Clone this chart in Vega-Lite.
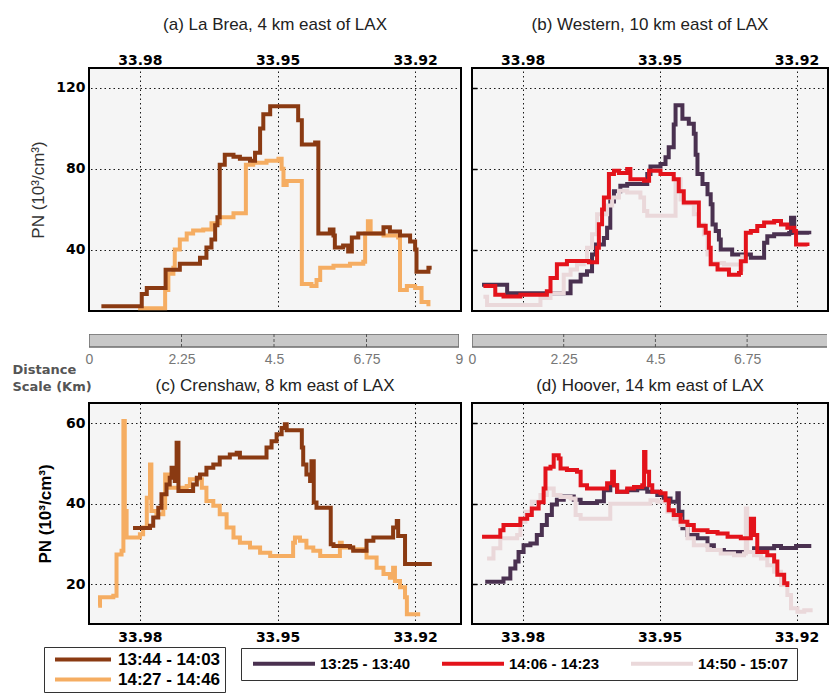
{
"$schema": "https://vega.github.io/schema/vega-lite/v6.json",
"background": "white",
"padding": {"left": 12, "top": 15, "right": 2, "bottom": 0},
"columns": 2,
"bounds": "flush",
"align": "each",
"spacing": {"row": 23, "column": 11},
"resolve": {"scale": {"color": "independent", "x": "independent", "y": "independent"}, "legend": {"color": "independent"}, "axis": {"x": "independent", "y": "independent"}},
"config": {
  "view": {"fill": "#f5f5f5", "stroke": "black", "strokeWidth": 2},
  "title": {"font": "Liberation Sans", "fontSize": 17, "fontWeight": "normal", "color": "#222"},
  "axis": {"labelFont": "DejaVu Sans", "labelFontWeight": "bold", "labelFontSize": 14, "labelColor": "black", "domain": false, "ticks": false, "grid": true, "gridColor": "#000", "gridDash": [1.5, 3], "gridWidth": 1, "gridOpacity": 0.9, "labelPadding": 4},
  "line": {"strokeWidth": 4, "interpolate": "step-after", "clip": true, "strokeJoin": "miter"}
},
"datasets": {
 "a": [
  {"lat":33.9804,"pn":11,"t":"14:27 - 14:46"},{"lat":33.9745,"pn":20,"t":"14:27 - 14:46"},{"lat":33.9738,"pn":28,"t":"14:27 - 14:46"},{"lat":33.9727,"pn":31,"t":"14:27 - 14:46"},{"lat":33.9724,"pn":40,"t":"14:27 - 14:46"},{"lat":33.9713,"pn":45,"t":"14:27 - 14:46"},{"lat":33.9698,"pn":48,"t":"14:27 - 14:46"},{"lat":33.9684,"pn":49.5,"t":"14:27 - 14:46"},{"lat":33.9662,"pn":50,"t":"14:27 - 14:46"},{"lat":33.9644,"pn":53,"t":"14:27 - 14:46"},{"lat":33.9626,"pn":56,"t":"14:27 - 14:46"},{"lat":33.9596,"pn":58,"t":"14:27 - 14:46"},{"lat":33.9569,"pn":82,"t":"14:27 - 14:46"},{"lat":33.9553,"pn":83,"t":"14:27 - 14:46"},{"lat":33.9524,"pn":84,"t":"14:27 - 14:46"},{"lat":33.9498,"pn":85,"t":"14:27 - 14:46"},{"lat":33.9491,"pn":80,"t":"14:27 - 14:46"},{"lat":33.9487,"pn":72,"t":"14:27 - 14:46"},{"lat":33.9480,"pn":74,"t":"14:27 - 14:46"},{"lat":33.9447,"pn":23,"t":"14:27 - 14:46"},{"lat":33.9426,"pn":22,"t":"14:27 - 14:46"},{"lat":33.9415,"pn":25,"t":"14:27 - 14:46"},{"lat":33.9407,"pn":31,"t":"14:27 - 14:46"},{"lat":33.9378,"pn":32,"t":"14:27 - 14:46"},{"lat":33.9342,"pn":33,"t":"14:27 - 14:46"},{"lat":33.9313,"pn":34,"t":"14:27 - 14:46"},{"lat":33.9309,"pn":48,"t":"14:27 - 14:46"},{"lat":33.9303,"pn":54,"t":"14:27 - 14:46"},{"lat":33.9297,"pn":48,"t":"14:27 - 14:46"},{"lat":33.9269,"pn":47,"t":"14:27 - 14:46"},{"lat":33.9237,"pn":46,"t":"14:27 - 14:46"},{"lat":33.9233,"pn":20,"t":"14:27 - 14:46"},{"lat":33.9218,"pn":22,"t":"14:27 - 14:46"},{"lat":33.9200,"pn":21,"t":"14:27 - 14:46"},{"lat":33.9186,"pn":14,"t":"14:27 - 14:46"},{"lat":33.9171,"pn":12,"t":"14:27 - 14:46"},
  {"lat":33.9884,"pn":12,"t":"13:44 - 14:03"},{"lat":33.9796,"pn":18,"t":"13:44 - 14:03"},{"lat":33.9785,"pn":21,"t":"13:44 - 14:03"},{"lat":33.9744,"pn":30,"t":"13:44 - 14:03"},{"lat":33.9713,"pn":33,"t":"13:44 - 14:03"},{"lat":33.9669,"pn":36,"t":"13:44 - 14:03"},{"lat":33.9655,"pn":41,"t":"13:44 - 14:03"},{"lat":33.9644,"pn":45,"t":"13:44 - 14:03"},{"lat":33.9636,"pn":52,"t":"13:44 - 14:03"},{"lat":33.9631,"pn":56,"t":"13:44 - 14:03"},{"lat":33.9626,"pn":82,"t":"13:44 - 14:03"},{"lat":33.9615,"pn":87,"t":"13:44 - 14:03"},{"lat":33.9596,"pn":86,"t":"13:44 - 14:03"},{"lat":33.9582,"pn":85,"t":"13:44 - 14:03"},{"lat":33.9560,"pn":84,"t":"13:44 - 14:03"},{"lat":33.9549,"pn":88,"t":"13:44 - 14:03"},{"lat":33.9538,"pn":100,"t":"13:44 - 14:03"},{"lat":33.9531,"pn":107,"t":"13:44 - 14:03"},{"lat":33.9516,"pn":111,"t":"13:44 - 14:03"},{"lat":33.9455,"pn":104,"t":"13:44 - 14:03"},{"lat":33.9447,"pn":92,"t":"13:44 - 14:03"},{"lat":33.9418,"pn":93,"t":"13:44 - 14:03"},{"lat":33.9411,"pn":48,"t":"13:44 - 14:03"},{"lat":33.9386,"pn":50,"t":"13:44 - 14:03"},{"lat":33.9378,"pn":47,"t":"13:44 - 14:03"},{"lat":33.9375,"pn":41,"t":"13:44 - 14:03"},{"lat":33.9357,"pn":42,"t":"13:44 - 14:03"},{"lat":33.9346,"pn":39,"t":"13:44 - 14:03"},{"lat":33.9338,"pn":46,"t":"13:44 - 14:03"},{"lat":33.9324,"pn":48,"t":"13:44 - 14:03"},{"lat":33.9269,"pn":51,"t":"13:44 - 14:03"},{"lat":33.9255,"pn":49,"t":"13:44 - 14:03"},{"lat":33.9233,"pn":47,"t":"13:44 - 14:03"},{"lat":33.9211,"pn":44,"t":"13:44 - 14:03"},{"lat":33.9200,"pn":40,"t":"13:44 - 14:03"},{"lat":33.9197,"pn":29,"t":"13:44 - 14:03"},{"lat":33.9171,"pn":31,"t":"13:44 - 14:03"},{"lat":33.9164,"pn":31,"t":"13:44 - 14:03"}
 ],
 "b": [
  {"lat":33.9889,"pn":23,"t":"13:25 - 13:40"},{"lat":33.9834,"pn":18.8,"t":"13:25 - 13:40"},{"lat":33.9695,"pn":24.6,"t":"13:25 - 13:40"},{"lat":33.9673,"pn":27.9,"t":"13:25 - 13:40"},{"lat":33.9659,"pn":29.6,"t":"13:25 - 13:40"},{"lat":33.9648,"pn":37.8,"t":"13:25 - 13:40"},{"lat":33.9640,"pn":42.8,"t":"13:25 - 13:40"},{"lat":33.9622,"pn":46,"t":"13:25 - 13:40"},{"lat":33.9615,"pn":51,"t":"13:25 - 13:40"},{"lat":33.9608,"pn":64,"t":"13:25 - 13:40"},{"lat":33.9600,"pn":69,"t":"13:25 - 13:40"},{"lat":33.9586,"pn":71.7,"t":"13:25 - 13:40"},{"lat":33.9571,"pn":72.6,"t":"13:25 - 13:40"},{"lat":33.9527,"pn":77.5,"t":"13:25 - 13:40"},{"lat":33.9520,"pn":81.2,"t":"13:25 - 13:40"},{"lat":33.9498,"pn":82.5,"t":"13:25 - 13:40"},{"lat":33.9487,"pn":85.8,"t":"13:25 - 13:40"},{"lat":33.9480,"pn":90.7,"t":"13:25 - 13:40"},{"lat":33.9469,"pn":102,"t":"13:25 - 13:40"},{"lat":33.9465,"pn":111.4,"t":"13:25 - 13:40"},{"lat":33.9450,"pn":104.8,"t":"13:25 - 13:40"},{"lat":33.9436,"pn":102.3,"t":"13:25 - 13:40"},{"lat":33.9425,"pn":97.4,"t":"13:25 - 13:40"},{"lat":33.9421,"pn":87,"t":"13:25 - 13:40"},{"lat":33.9417,"pn":77.5,"t":"13:25 - 13:40"},{"lat":33.9406,"pn":72.6,"t":"13:25 - 13:40"},{"lat":33.9395,"pn":67.6,"t":"13:25 - 13:40"},{"lat":33.9388,"pn":62.6,"t":"13:25 - 13:40"},{"lat":33.9384,"pn":52.7,"t":"13:25 - 13:40"},{"lat":33.9377,"pn":49.4,"t":"13:25 - 13:40"},{"lat":33.9370,"pn":45.3,"t":"13:25 - 13:40"},{"lat":33.9366,"pn":40.3,"t":"13:25 - 13:40"},{"lat":33.9341,"pn":37.8,"t":"13:25 - 13:40"},{"lat":33.9300,"pn":36.2,"t":"13:25 - 13:40"},{"lat":33.9271,"pn":43.6,"t":"13:25 - 13:40"},{"lat":33.9264,"pn":46.9,"t":"13:25 - 13:40"},{"lat":33.9249,"pn":47.8,"t":"13:25 - 13:40"},{"lat":33.9216,"pn":48.5,"t":"13:25 - 13:40"},{"lat":33.9212,"pn":56,"t":"13:25 - 13:40"},{"lat":33.9205,"pn":48.6,"t":"13:25 - 13:40"},{"lat":33.9172,"pn":47.8,"t":"13:25 - 13:40"},
  {"lat":33.9886,"pn":17,"t":"14:50 - 15:07"},{"lat":33.9878,"pn":13,"t":"14:50 - 15:07"},{"lat":33.9761,"pn":16.4,"t":"14:50 - 15:07"},{"lat":33.9739,"pn":18.8,"t":"14:50 - 15:07"},{"lat":33.9710,"pn":27.9,"t":"14:50 - 15:07"},{"lat":33.9695,"pn":30.4,"t":"14:50 - 15:07"},{"lat":33.9681,"pn":33,"t":"14:50 - 15:07"},{"lat":33.9666,"pn":34.6,"t":"14:50 - 15:07"},{"lat":33.9659,"pn":41.2,"t":"14:50 - 15:07"},{"lat":33.9648,"pn":47.8,"t":"14:50 - 15:07"},{"lat":33.9637,"pn":57.7,"t":"14:50 - 15:07"},{"lat":33.9615,"pn":62,"t":"14:50 - 15:07"},{"lat":33.9604,"pn":66,"t":"14:50 - 15:07"},{"lat":33.9589,"pn":69.3,"t":"14:50 - 15:07"},{"lat":33.9571,"pn":68.4,"t":"14:50 - 15:07"},{"lat":33.9542,"pn":66,"t":"14:50 - 15:07"},{"lat":33.9534,"pn":59.3,"t":"14:50 - 15:07"},{"lat":33.9527,"pn":56.9,"t":"14:50 - 15:07"},{"lat":33.9465,"pn":75,"t":"14:50 - 15:07"},{"lat":33.9454,"pn":65,"t":"14:50 - 15:07"},{"lat":33.9447,"pn":63,"t":"14:50 - 15:07"},{"lat":33.9425,"pn":57.7,"t":"14:50 - 15:07"},{"lat":33.9414,"pn":52.7,"t":"14:50 - 15:07"},{"lat":33.9403,"pn":47.8,"t":"14:50 - 15:07"},{"lat":33.9395,"pn":37.8,"t":"14:50 - 15:07"},{"lat":33.9388,"pn":33.7,"t":"14:50 - 15:07"},{"lat":33.9359,"pn":32.9,"t":"14:50 - 15:07"},{"lat":33.9322,"pn":30.4,"t":"14:50 - 15:07"},{"lat":33.9319,"pn":37.8,"t":"14:50 - 15:07"},
  {"lat":33.9886,"pn":22.3,"t":"14:06 - 14:23"},{"lat":33.9860,"pn":18,"t":"14:06 - 14:23"},{"lat":33.9842,"pn":17.2,"t":"14:06 - 14:23"},{"lat":33.9805,"pn":18,"t":"14:06 - 14:23"},{"lat":33.9747,"pn":19.7,"t":"14:06 - 14:23"},{"lat":33.9739,"pn":26.3,"t":"14:06 - 14:23"},{"lat":33.9725,"pn":33,"t":"14:06 - 14:23"},{"lat":33.9703,"pn":34.6,"t":"14:06 - 14:23"},{"lat":33.9655,"pn":34,"t":"14:06 - 14:23"},{"lat":33.9637,"pn":41.2,"t":"14:06 - 14:23"},{"lat":33.9633,"pn":52.8,"t":"14:06 - 14:23"},{"lat":33.9626,"pn":60,"t":"14:06 - 14:23"},{"lat":33.9622,"pn":66,"t":"14:06 - 14:23"},{"lat":33.9611,"pn":77.5,"t":"14:06 - 14:23"},{"lat":33.9600,"pn":79.2,"t":"14:06 - 14:23"},{"lat":33.9589,"pn":78,"t":"14:06 - 14:23"},{"lat":33.9571,"pn":80,"t":"14:06 - 14:23"},{"lat":33.9564,"pn":75,"t":"14:06 - 14:23"},{"lat":33.9534,"pn":74.2,"t":"14:06 - 14:23"},{"lat":33.9523,"pn":79.2,"t":"14:06 - 14:23"},{"lat":33.9498,"pn":77.5,"t":"14:06 - 14:23"},{"lat":33.9469,"pn":75,"t":"14:06 - 14:23"},{"lat":33.9458,"pn":69,"t":"14:06 - 14:23"},{"lat":33.9447,"pn":63.5,"t":"14:06 - 14:23"},{"lat":33.9414,"pn":52,"t":"14:06 - 14:23"},{"lat":33.9399,"pn":48.6,"t":"14:06 - 14:23"},{"lat":33.9392,"pn":41.2,"t":"14:06 - 14:23"},{"lat":33.9388,"pn":33,"t":"14:06 - 14:23"},{"lat":33.9373,"pn":30.4,"t":"14:06 - 14:23"},{"lat":33.9348,"pn":27.9,"t":"14:06 - 14:23"},{"lat":33.9326,"pn":28.7,"t":"14:06 - 14:23"},{"lat":33.9322,"pn":34.5,"t":"14:06 - 14:23"},{"lat":33.9311,"pn":48.6,"t":"14:06 - 14:23"},{"lat":33.9300,"pn":49.4,"t":"14:06 - 14:23"},{"lat":33.9286,"pn":51.9,"t":"14:06 - 14:23"},{"lat":33.9271,"pn":53.6,"t":"14:06 - 14:23"},{"lat":33.9249,"pn":54.4,"t":"14:06 - 14:23"},{"lat":33.9234,"pn":52.7,"t":"14:06 - 14:23"},{"lat":33.9220,"pn":51,"t":"14:06 - 14:23"},{"lat":33.9205,"pn":49.4,"t":"14:06 - 14:23"},{"lat":33.9201,"pn":42.8,"t":"14:06 - 14:23"},{"lat":33.9176,"pn":42,"t":"14:06 - 14:23"}
 ],
 "c": [
  {"lat":33.9891,"pn":14.6,"t":"14:27 - 14:46"},{"lat":33.9887,"pn":16.7,"t":"14:27 - 14:46"},{"lat":33.9858,"pn":17.1,"t":"14:27 - 14:46"},{"lat":33.9851,"pn":27.4,"t":"14:27 - 14:46"},{"lat":33.9840,"pn":28.3,"t":"14:27 - 14:46"},{"lat":33.9836,"pn":60.6,"t":"14:27 - 14:46"},{"lat":33.9833,"pn":38.2,"t":"14:27 - 14:46"},{"lat":33.9829,"pn":31.6,"t":"14:27 - 14:46"},{"lat":33.9800,"pn":32.4,"t":"14:27 - 14:46"},{"lat":33.9793,"pn":34.1,"t":"14:27 - 14:46"},{"lat":33.9785,"pn":41.5,"t":"14:27 - 14:46"},{"lat":33.9778,"pn":49.8,"t":"14:27 - 14:46"},{"lat":33.9775,"pn":38.2,"t":"14:27 - 14:46"},{"lat":33.9764,"pn":37.4,"t":"14:27 - 14:46"},{"lat":33.9749,"pn":39,"t":"14:27 - 14:46"},{"lat":33.9745,"pn":47.3,"t":"14:27 - 14:46"},{"lat":33.9738,"pn":44,"t":"14:27 - 14:46"},{"lat":33.9705,"pn":43.2,"t":"14:27 - 14:46"},{"lat":33.9698,"pn":44.4,"t":"14:27 - 14:46"},{"lat":33.9691,"pn":46.1,"t":"14:27 - 14:46"},{"lat":33.9665,"pn":44,"t":"14:27 - 14:46"},{"lat":33.9655,"pn":40.7,"t":"14:27 - 14:46"},{"lat":33.9640,"pn":39.5,"t":"14:27 - 14:46"},{"lat":33.9626,"pn":37.4,"t":"14:27 - 14:46"},{"lat":33.9611,"pn":34.1,"t":"14:27 - 14:46"},{"lat":33.9596,"pn":31.6,"t":"14:27 - 14:46"},{"lat":33.9582,"pn":30.3,"t":"14:27 - 14:46"},{"lat":33.9560,"pn":29.1,"t":"14:27 - 14:46"},{"lat":33.9538,"pn":27.8,"t":"14:27 - 14:46"},{"lat":33.9516,"pn":27,"t":"14:27 - 14:46"},{"lat":33.9466,"pn":30.3,"t":"14:27 - 14:46"},{"lat":33.9462,"pn":31.6,"t":"14:27 - 14:46"},{"lat":33.9451,"pn":30.8,"t":"14:27 - 14:46"},{"lat":33.9437,"pn":29.1,"t":"14:27 - 14:46"},{"lat":33.9422,"pn":28.3,"t":"14:27 - 14:46"},{"lat":33.9407,"pn":27,"t":"14:27 - 14:46"},{"lat":33.9364,"pn":30.3,"t":"14:27 - 14:46"},{"lat":33.9360,"pn":29.1,"t":"14:27 - 14:46"},{"lat":33.9335,"pn":28.7,"t":"14:27 - 14:46"},{"lat":33.9313,"pn":28.3,"t":"14:27 - 14:46"},{"lat":33.9306,"pn":26.6,"t":"14:27 - 14:46"},{"lat":33.9284,"pn":24.1,"t":"14:27 - 14:46"},{"lat":33.9269,"pn":22.5,"t":"14:27 - 14:46"},{"lat":33.9255,"pn":21.6,"t":"14:27 - 14:46"},{"lat":33.9248,"pn":24.1,"t":"14:27 - 14:46"},{"lat":33.9244,"pn":20.8,"t":"14:27 - 14:46"},{"lat":33.9233,"pn":19.2,"t":"14:27 - 14:46"},{"lat":33.9222,"pn":16.7,"t":"14:27 - 14:46"},{"lat":33.9218,"pn":12.5,"t":"14:27 - 14:46"},{"lat":33.9189,"pn":12.5,"t":"14:27 - 14:46"},
  {"lat":33.9815,"pn":34,"t":"13:44 - 14:03"},{"lat":33.9778,"pn":34.5,"t":"13:44 - 14:03"},{"lat":33.9771,"pn":36.6,"t":"13:44 - 14:03"},{"lat":33.9760,"pn":39,"t":"13:44 - 14:03"},{"lat":33.9753,"pn":42.4,"t":"13:44 - 14:03"},{"lat":33.9742,"pn":44.8,"t":"13:44 - 14:03"},{"lat":33.9735,"pn":46.5,"t":"13:44 - 14:03"},{"lat":33.9731,"pn":49,"t":"13:44 - 14:03"},{"lat":33.9724,"pn":45.7,"t":"13:44 - 14:03"},{"lat":33.9720,"pn":55.2,"t":"13:44 - 14:03"},{"lat":33.9716,"pn":43.2,"t":"13:44 - 14:03"},{"lat":33.9684,"pn":44.8,"t":"13:44 - 14:03"},{"lat":33.9676,"pn":46.5,"t":"13:44 - 14:03"},{"lat":33.9669,"pn":47.3,"t":"13:44 - 14:03"},{"lat":33.9655,"pn":49,"t":"13:44 - 14:03"},{"lat":33.9640,"pn":49.8,"t":"13:44 - 14:03"},{"lat":33.9626,"pn":51.5,"t":"13:44 - 14:03"},{"lat":33.9604,"pn":52.3,"t":"13:44 - 14:03"},{"lat":33.9589,"pn":52.7,"t":"13:44 - 14:03"},{"lat":33.9582,"pn":51.5,"t":"13:44 - 14:03"},{"lat":33.9524,"pn":54,"t":"13:44 - 14:03"},{"lat":33.9513,"pn":55.6,"t":"13:44 - 14:03"},{"lat":33.9502,"pn":57.3,"t":"13:44 - 14:03"},{"lat":33.9491,"pn":58.9,"t":"13:44 - 14:03"},{"lat":33.9484,"pn":59.8,"t":"13:44 - 14:03"},{"lat":33.9480,"pn":58.3,"t":"13:44 - 14:03"},{"lat":33.9447,"pn":54,"t":"13:44 - 14:03"},{"lat":33.9444,"pn":49.8,"t":"13:44 - 14:03"},{"lat":33.9437,"pn":47.3,"t":"13:44 - 14:03"},{"lat":33.9429,"pn":45.7,"t":"13:44 - 14:03"},{"lat":33.9426,"pn":50.6,"t":"13:44 - 14:03"},{"lat":33.9421,"pn":40.3,"t":"13:44 - 14:03"},{"lat":33.9415,"pn":39,"t":"13:44 - 14:03"},{"lat":33.9384,"pn":29.9,"t":"13:44 - 14:03"},{"lat":33.9378,"pn":29.5,"t":"13:44 - 14:03"},{"lat":33.9342,"pn":29.1,"t":"13:44 - 14:03"},{"lat":33.9335,"pn":28.3,"t":"13:44 - 14:03"},{"lat":33.9306,"pn":30.8,"t":"13:44 - 14:03"},{"lat":33.9291,"pn":31.6,"t":"13:44 - 14:03"},{"lat":33.9248,"pn":34.1,"t":"13:44 - 14:03"},{"lat":33.9240,"pn":35.7,"t":"13:44 - 14:03"},{"lat":33.9237,"pn":32,"t":"13:44 - 14:03"},{"lat":33.9222,"pn":25,"t":"13:44 - 14:03"},{"lat":33.9168,"pn":24.5,"t":"13:44 - 14:03"}
 ],
 "d": [
  {"lat":33.9882,"pn":20.6,"t":"13:25 - 13:40"},{"lat":33.9842,"pn":21.4,"t":"13:25 - 13:40"},{"lat":33.9827,"pn":23.9,"t":"13:25 - 13:40"},{"lat":33.9816,"pn":25.6,"t":"13:25 - 13:40"},{"lat":33.9809,"pn":28,"t":"13:25 - 13:40"},{"lat":33.9798,"pn":29.7,"t":"13:25 - 13:40"},{"lat":33.9783,"pn":30.1,"t":"13:25 - 13:40"},{"lat":33.9769,"pn":32.2,"t":"13:25 - 13:40"},{"lat":33.9758,"pn":34.7,"t":"13:25 - 13:40"},{"lat":33.9747,"pn":37.2,"t":"13:25 - 13:40"},{"lat":33.9736,"pn":39.8,"t":"13:25 - 13:40"},{"lat":33.9725,"pn":41,"t":"13:25 - 13:40"},{"lat":33.9710,"pn":41.8,"t":"13:25 - 13:40"},{"lat":33.9688,"pn":41,"t":"13:25 - 13:40"},{"lat":33.9673,"pn":40.2,"t":"13:25 - 13:40"},{"lat":33.9637,"pn":40.6,"t":"13:25 - 13:40"},{"lat":33.9622,"pn":43.4,"t":"13:25 - 13:40"},{"lat":33.9608,"pn":44.6,"t":"13:25 - 13:40"},{"lat":33.9593,"pn":43,"t":"13:25 - 13:40"},{"lat":33.9571,"pn":43.4,"t":"13:25 - 13:40"},{"lat":33.9549,"pn":43.8,"t":"13:25 - 13:40"},{"lat":33.9527,"pn":43,"t":"13:25 - 13:40"},{"lat":33.9505,"pn":42.2,"t":"13:25 - 13:40"},{"lat":33.9491,"pn":41.3,"t":"13:25 - 13:40"},{"lat":33.9476,"pn":40.5,"t":"13:25 - 13:40"},{"lat":33.9461,"pn":42.6,"t":"13:25 - 13:40"},{"lat":33.9458,"pn":38,"t":"13:25 - 13:40"},{"lat":33.9450,"pn":33.9,"t":"13:25 - 13:40"},{"lat":33.9439,"pn":32.2,"t":"13:25 - 13:40"},{"lat":33.9417,"pn":31.4,"t":"13:25 - 13:40"},{"lat":33.9395,"pn":29.7,"t":"13:25 - 13:40"},{"lat":33.9381,"pn":28.5,"t":"13:25 - 13:40"},{"lat":33.9359,"pn":28,"t":"13:25 - 13:40"},{"lat":33.9293,"pn":28.9,"t":"13:25 - 13:40"},{"lat":33.9249,"pn":29.5,"t":"13:25 - 13:40"},{"lat":33.9234,"pn":29,"t":"13:25 - 13:40"},{"lat":33.9201,"pn":29.5,"t":"13:25 - 13:40"},{"lat":33.9172,"pn":29,"t":"13:25 - 13:40"},
  {"lat":33.9878,"pn":26.4,"t":"14:50 - 15:07"},{"lat":33.9864,"pn":28.9,"t":"14:50 - 15:07"},{"lat":33.9849,"pn":31.4,"t":"14:50 - 15:07"},{"lat":33.9812,"pn":32.2,"t":"14:50 - 15:07"},{"lat":33.9805,"pn":35.5,"t":"14:50 - 15:07"},{"lat":33.9794,"pn":38,"t":"14:50 - 15:07"},{"lat":33.9780,"pn":40.5,"t":"14:50 - 15:07"},{"lat":33.9761,"pn":42.2,"t":"14:50 - 15:07"},{"lat":33.9747,"pn":43.8,"t":"14:50 - 15:07"},{"lat":33.9732,"pn":42.2,"t":"14:50 - 15:07"},{"lat":33.9717,"pn":41.7,"t":"14:50 - 15:07"},{"lat":33.9695,"pn":41.3,"t":"14:50 - 15:07"},{"lat":33.9684,"pn":37.2,"t":"14:50 - 15:07"},{"lat":33.9673,"pn":36.3,"t":"14:50 - 15:07"},{"lat":33.9608,"pn":40,"t":"14:50 - 15:07"},{"lat":33.9520,"pn":40.9,"t":"14:50 - 15:07"},{"lat":33.9505,"pn":40.5,"t":"14:50 - 15:07"},{"lat":33.9483,"pn":38,"t":"14:50 - 15:07"},{"lat":33.9469,"pn":36.3,"t":"14:50 - 15:07"},{"lat":33.9454,"pn":34.7,"t":"14:50 - 15:07"},{"lat":33.9439,"pn":31.4,"t":"14:50 - 15:07"},{"lat":33.9425,"pn":29.7,"t":"14:50 - 15:07"},{"lat":33.9395,"pn":28.5,"t":"14:50 - 15:07"},{"lat":33.9366,"pn":27.6,"t":"14:50 - 15:07"},{"lat":33.9337,"pn":27.2,"t":"14:50 - 15:07"},{"lat":33.9315,"pn":27.6,"t":"14:50 - 15:07"},{"lat":33.9311,"pn":38.8,"t":"14:50 - 15:07"},{"lat":33.9308,"pn":28,"t":"14:50 - 15:07"},{"lat":33.9293,"pn":27.2,"t":"14:50 - 15:07"},{"lat":33.9278,"pn":26.4,"t":"14:50 - 15:07"},{"lat":33.9264,"pn":24.7,"t":"14:50 - 15:07"},{"lat":33.9249,"pn":23.1,"t":"14:50 - 15:07"},{"lat":33.9234,"pn":19.8,"t":"14:50 - 15:07"},{"lat":33.9220,"pn":17.3,"t":"14:50 - 15:07"},{"lat":33.9212,"pn":14,"t":"14:50 - 15:07"},{"lat":33.9198,"pn":13.1,"t":"14:50 - 15:07"},{"lat":33.9183,"pn":13.5,"t":"14:50 - 15:07"},{"lat":33.9169,"pn":14,"t":"14:50 - 15:07"},
  {"lat":33.9889,"pn":31.8,"t":"14:06 - 14:23"},{"lat":33.9849,"pn":33.4,"t":"14:06 - 14:23"},{"lat":33.9842,"pn":34.7,"t":"14:06 - 14:23"},{"lat":33.9805,"pn":36.3,"t":"14:06 - 14:23"},{"lat":33.9790,"pn":37.2,"t":"14:06 - 14:23"},{"lat":33.9780,"pn":38.8,"t":"14:06 - 14:23"},{"lat":33.9765,"pn":40.4,"t":"14:06 - 14:23"},{"lat":33.9754,"pn":43.8,"t":"14:06 - 14:23"},{"lat":33.9750,"pn":48.8,"t":"14:06 - 14:23"},{"lat":33.9739,"pn":49.2,"t":"14:06 - 14:23"},{"lat":33.9732,"pn":52.1,"t":"14:06 - 14:23"},{"lat":33.9721,"pn":51.3,"t":"14:06 - 14:23"},{"lat":33.9717,"pn":48.8,"t":"14:06 - 14:23"},{"lat":33.9703,"pn":48.4,"t":"14:06 - 14:23"},{"lat":33.9681,"pn":48,"t":"14:06 - 14:23"},{"lat":33.9673,"pn":44.6,"t":"14:06 - 14:23"},{"lat":33.9659,"pn":43.8,"t":"14:06 - 14:23"},{"lat":33.9615,"pn":45.1,"t":"14:06 - 14:23"},{"lat":33.9604,"pn":48,"t":"14:06 - 14:23"},{"lat":33.9600,"pn":44.6,"t":"14:06 - 14:23"},{"lat":33.9593,"pn":43,"t":"14:06 - 14:23"},{"lat":33.9571,"pn":43.8,"t":"14:06 - 14:23"},{"lat":33.9556,"pn":44.2,"t":"14:06 - 14:23"},{"lat":33.9538,"pn":44.6,"t":"14:06 - 14:23"},{"lat":33.9534,"pn":52.9,"t":"14:06 - 14:23"},{"lat":33.9531,"pn":48,"t":"14:06 - 14:23"},{"lat":33.9523,"pn":44.6,"t":"14:06 - 14:23"},{"lat":33.9516,"pn":43,"t":"14:06 - 14:23"},{"lat":33.9498,"pn":42.6,"t":"14:06 - 14:23"},{"lat":33.9487,"pn":40.9,"t":"14:06 - 14:23"},{"lat":33.9480,"pn":38.4,"t":"14:06 - 14:23"},{"lat":33.9469,"pn":37.2,"t":"14:06 - 14:23"},{"lat":33.9454,"pn":35.5,"t":"14:06 - 14:23"},{"lat":33.9439,"pn":34.7,"t":"14:06 - 14:23"},{"lat":33.9425,"pn":33.4,"t":"14:06 - 14:23"},{"lat":33.9395,"pn":33,"t":"14:06 - 14:23"},{"lat":33.9373,"pn":32.6,"t":"14:06 - 14:23"},{"lat":33.9351,"pn":31.8,"t":"14:06 - 14:23"},{"lat":33.9322,"pn":31.4,"t":"14:06 - 14:23"},{"lat":33.9300,"pn":36.3,"t":"14:06 - 14:23"},{"lat":33.9293,"pn":32.2,"t":"14:06 - 14:23"},{"lat":33.9286,"pn":28,"t":"14:06 - 14:23"},{"lat":33.9264,"pn":27.2,"t":"14:06 - 14:23"},{"lat":33.9249,"pn":25.6,"t":"14:06 - 14:23"},{"lat":33.9242,"pn":22.3,"t":"14:06 - 14:23"},{"lat":33.9227,"pn":20.2,"t":"14:06 - 14:23"},{"lat":33.9220,"pn":19.8,"t":"14:06 - 14:23"},{"lat":33.9216,"pn":19.8,"t":"14:06 - 14:23"}
 ]
},
"concat": [
 {
  "width": 372, "height": 243,
  "title": {"text": "(a) La Brea, 4 km east of LAX", "offset": 19},
  "data": {"name": "a"},
  "mark": "line",
  "encoding": {
   "x": {"field": "lat", "type": "quantitative", "scale": {"domain": [33.91, 33.9911], "reverse": true, "nice": false, "zero": false}, "axis": {"orient": "top", "values": [33.98, 33.95, 33.92], "format": ".2f", "title": null, "labelPadding": 1}},
   "y": {"field": "pn", "type": "quantitative", "scale": {"domain": [9.6, 129.9], "nice": false, "zero": false}, "axis": {"values": [40, 80, 120], "title": "PN (10³/cm³)", "titleFont": "Liberation Sans", "titleFontWeight": "normal", "titleFontSize": 17, "titleColor": "#333", "titlePadding": 8}},
   "color": {"field": "t", "type": "nominal", "scale": {"domain": ["13:44 - 14:03", "14:27 - 14:46"], "range": ["#8a3a12", "#f5ad62"]}, "legend": null},
   "order": {"field": "lat", "type": "quantitative", "sort": "descending"}
  }
 },
 {
  "width": 356, "height": 243,
  "title": {"text": "(b) Western, 10 km east of LAX", "offset": 19},
  "data": {"name": "b"},
  "mark": "line",
  "encoding": {
   "x": {"field": "lat", "type": "quantitative", "scale": {"domain": [33.9131, 33.9911], "reverse": true, "nice": false, "zero": false}, "axis": {"orient": "top", "values": [33.98, 33.95, 33.92], "format": ".2f", "title": null, "labelPadding": 1}},
   "y": {"field": "pn", "type": "quantitative", "scale": {"domain": [10, 129.8], "nice": false, "zero": false}, "axis": {"values": [40, 80, 120], "labels": false, "title": null, "ticks": true, "tickSize": -5, "tickColor": "black", "tickWidth": 1.5}},
   "color": {"field": "t", "type": "nominal", "scale": {"domain": ["13:25 - 13:40", "14:06 - 14:23", "14:50 - 15:07"], "range": ["#4a3150", "#e3131b", "#ead8da"]}, "legend": null},
   "order": {"field": "lat", "type": "quantitative", "sort": "descending"}
  }
 },
 {
  "width": 370, "height": 46,
  "view": {"fill": null, "stroke": null},
  "encoding": {
   "x": {"field": "km", "type": "quantitative", "scale": {"domain": [0, 9], "nice": false, "zero": false}, "axis": {"orient": "bottom", "offset": -33, "values": [0, 2.25, 4.5, 6.75, 9], "labelExpr": "'' + datum.value", "grid": false, "labelFont": "Liberation Sans", "labelFontWeight": "normal", "labelFontSize": 14, "labelColor": "#777", "labelPadding": 5, "labelOverlap": false, "labelFlush": false, "labelBound": false, "title": null}},
   "y": {"datum": 0, "type": "quantitative", "scale": {"domain": [0, 3.54], "reverse": true, "nice": false, "zero": false}, "axis": {"title": ["Distance", "Scale (Km)"], "titleAngle": 0, "titleAlign": "left", "titleBaseline": "alphabetic", "titleX": -77, "titleY": 39, "titleFont": "DejaVu Sans", "titleFontWeight": "bold", "titleFontSize": 13, "titleColor": "#555", "titleLineHeight": 17, "labels": false, "ticks": false, "domain": false, "grid": false}},
   "y2": {"datum": 1}
  },
  "layer": [
   {"data": {"values": [{"km": 0, "km2": 9}]}, "mark": {"type": "rect", "fill": "#c8c8c8", "stroke": "#6e6e6e", "strokeWidth": 1.5, "clip": true}, "encoding": {"x2": {"field": "km2"}}},
   {"data": {"values": [{"km": 2.25}, {"km": 4.5}, {"km": 6.75}]}, "mark": {"type": "rule", "stroke": "#555", "strokeDash": [3, 2], "strokeWidth": 1}}
  ]
 },
 {
  "width": 355, "height": 46,
  "view": {"fill": null, "stroke": null},
  "encoding": {
   "x": {"field": "km", "type": "quantitative", "scale": {"domain": [0, 8.71], "nice": false, "zero": false}, "axis": {"orient": "bottom", "offset": -33, "values": [0, 2.25, 4.5, 6.75], "labelExpr": "'' + datum.value", "grid": false, "labelFont": "Liberation Sans", "labelFontWeight": "normal", "labelFontSize": 14, "labelColor": "#777", "labelPadding": 5, "labelOverlap": false, "labelFlush": false, "labelBound": false, "title": null}},
   "y": {"datum": 0, "type": "quantitative", "scale": {"domain": [0, 3.54], "reverse": true, "nice": false, "zero": false}, "axis": null},
   "y2": {"datum": 1}
  },
  "layer": [
   {"data": {"values": [{"km": 0, "km2": 9}]}, "mark": {"type": "rect", "fill": "#c8c8c8", "stroke": "#6e6e6e", "strokeWidth": 1.5, "clip": true}, "encoding": {"x2": {"field": "km2"}}},
   {"data": {"values": [{"km": 2.25}, {"km": 4.5}, {"km": 6.75}]}, "mark": {"type": "rule", "stroke": "#555", "strokeDash": [3, 2], "strokeWidth": 1}}
  ]
 },
 {
  "width": 372, "height": 221,
  "title": {"text": "(c) Crenshaw, 8 km east of LAX", "offset": 8},
  "data": {"name": "c"},
  "mark": "line",
  "encoding": {
   "x": {"field": "lat", "type": "quantitative", "scale": {"domain": [33.91, 33.9911], "reverse": true, "nice": false, "zero": false}, "axis": {"orient": "bottom", "values": [33.98, 33.95, 33.92], "format": ".2f", "title": null, "labelPadding": 6}},
   "y": {"field": "pn", "type": "quantitative", "scale": {"domain": [10.06, 65.1], "nice": false, "zero": false}, "axis": {"values": [20, 40, 60], "title": "PN (10³/cm³)", "titleFont": "Liberation Sans", "titleFontWeight": "bold", "titleFontSize": 17, "titleColor": "black", "titlePadding": 11}},
   "color": {"field": "t", "type": "nominal", "scale": {"domain": ["13:44 - 14:03", "14:27 - 14:46"], "range": ["#8a3a12", "#f5ad62"]},
     "legend": {"orient": "none", "legendX": -45, "legendY": 244, "title": null, "direction": "vertical", "symbolType": "M-0.3,0H10.9", "symbolSize": 100, "symbolStrokeWidth": 5, "labelFont": "Liberation Sans", "labelFontWeight": "bold", "labelFontSize": 17, "labelColor": "black", "labelOffset": 53, "rowPadding": 2, "strokeColor": "#333", "fillColor": "white", "padding": 4}},
   "order": {"field": "lat", "type": "quantitative", "sort": "descending"}
  }
 },
 {
  "width": 356, "height": 221,
  "title": {"text": "(d) Hoover, 14 km east of LAX", "offset": 8},
  "data": {"name": "d"},
  "mark": "line",
  "encoding": {
   "x": {"field": "lat", "type": "quantitative", "scale": {"domain": [33.9131, 33.9911], "reverse": true, "nice": false, "zero": false}, "axis": {"orient": "bottom", "values": [33.98, 33.95, 33.92], "format": ".2f", "title": null, "labelPadding": 6}},
   "y": {"field": "pn", "type": "quantitative", "scale": {"domain": [10.06, 65.1], "nice": false, "zero": false}, "axis": {"values": [20, 40, 60], "labels": false, "title": null, "ticks": true, "tickSize": -5, "tickColor": "black", "tickWidth": 1.5}},
   "color": {"field": "t", "type": "nominal", "scale": {"domain": ["13:25 - 13:40", "14:06 - 14:23", "14:50 - 15:07"], "range": ["#4a3150", "#e3131b", "#ead8da"]},
     "legend": {"orient": "none", "legendX": -231, "legendY": 245, "title": null, "direction": "horizontal", "columns": 3, "symbolType": "M-0.7,0H11.7", "symbolSize": 100, "symbolStrokeWidth": 5, "labelFont": "Liberation Sans", "labelFontWeight": "bold", "labelFontSize": 15, "labelColor": "black", "labelOffset": 56, "columnPadding": 23, "strokeColor": "#333", "fillColor": "white", "padding": 8}},
   "order": {"field": "lat", "type": "quantitative", "sort": "descending"}
  }
 }
]
}
